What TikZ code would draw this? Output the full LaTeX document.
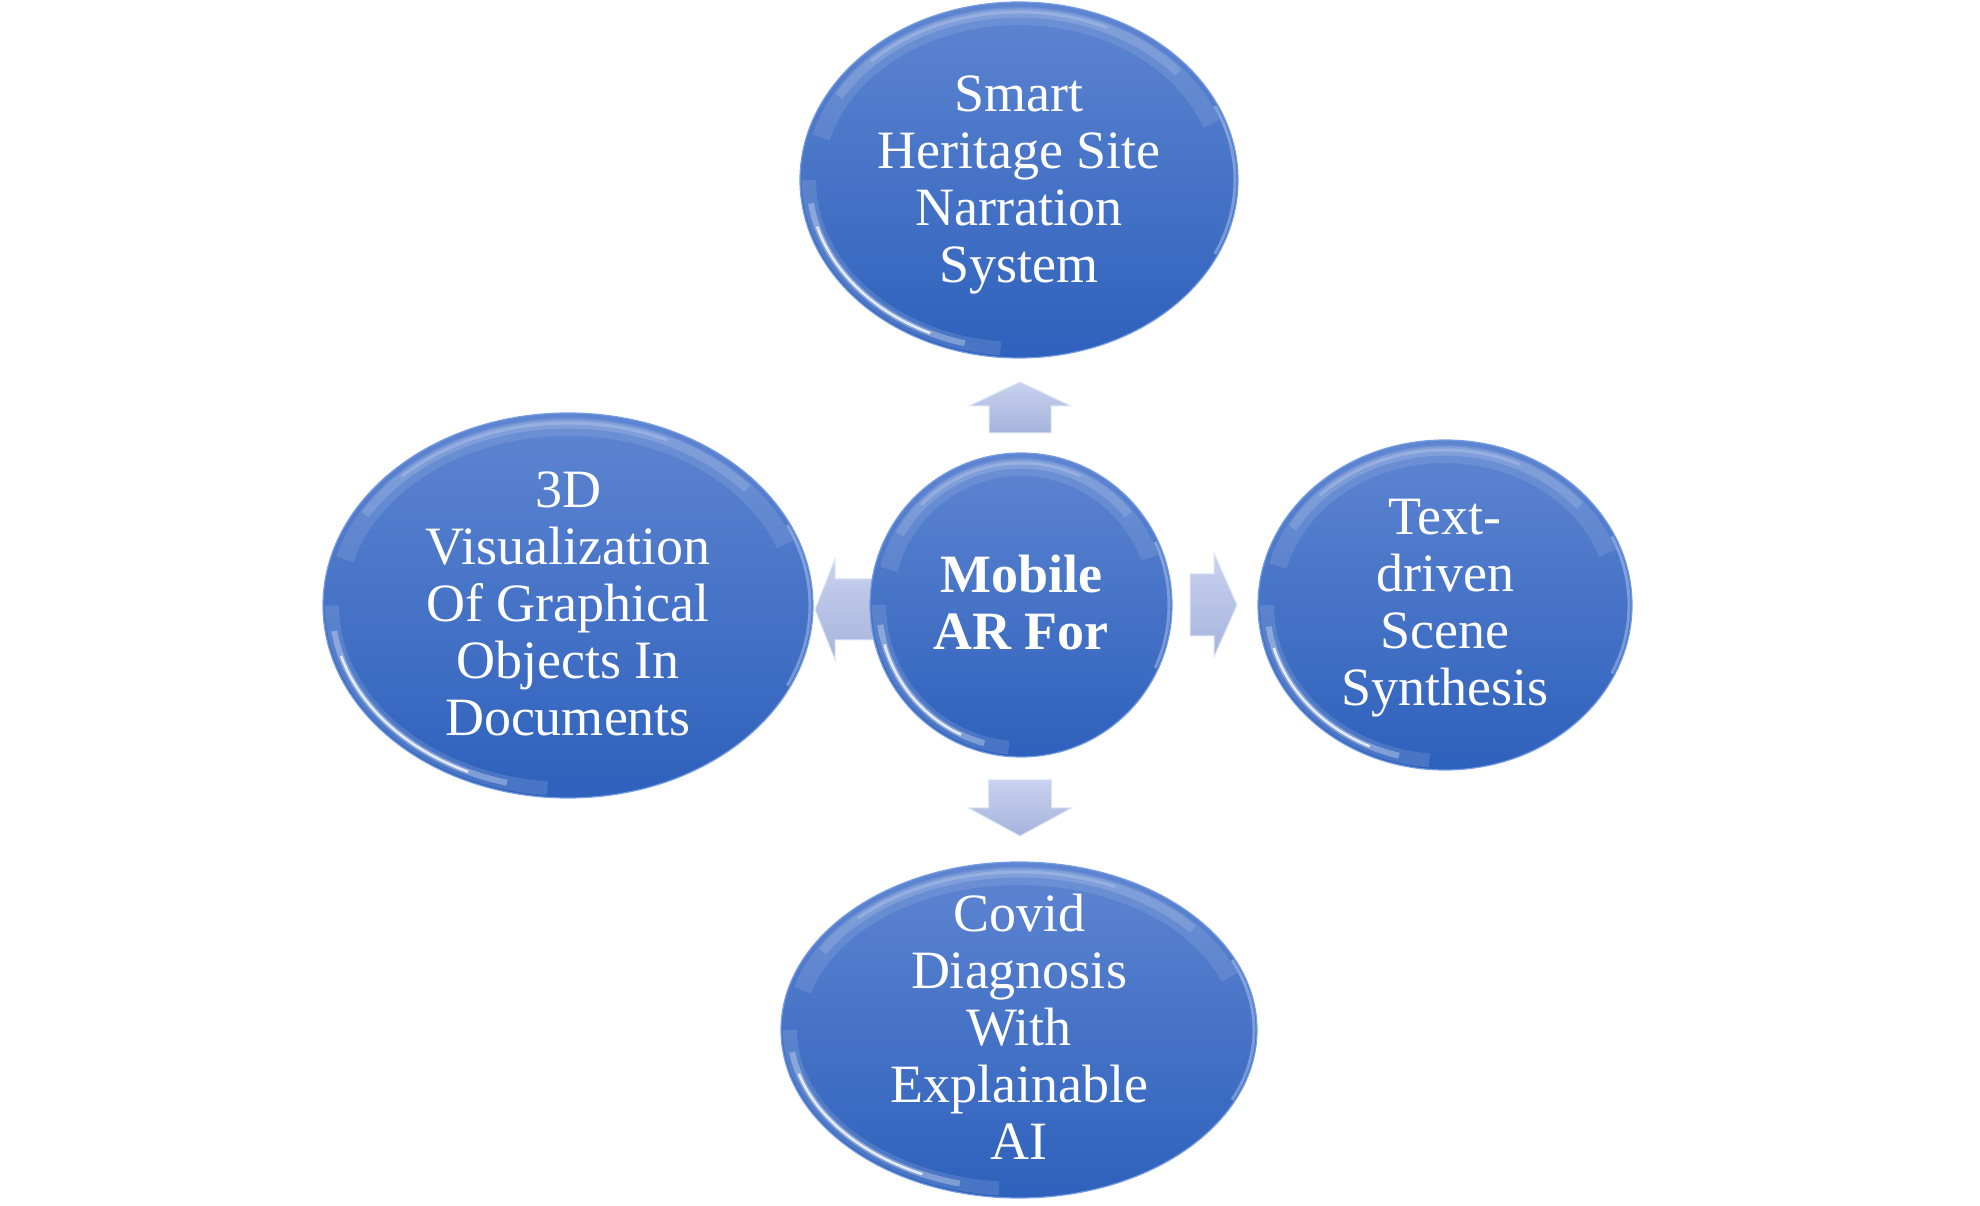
\documentclass[tikz,border=0pt]{standalone}
\usepackage{fontspec}
\setmainfont{Liberation Serif}
\usetikzlibrary{shapes.geometric}
\definecolor{btop}{RGB}{94,133,209}
\definecolor{bbot}{RGB}{46,97,188}
\definecolor{brim}{RGB}{118,156,226}
\definecolor{atop}{RGB}{200,210,239}
\definecolor{abot}{RGB}{166,179,219}
\definecolor{arim}{RGB}{222,229,248}
\tikzset{
  hl/.style n args={5}{white, opacity=#1, line width=#2},
  bubble/.style 2 args={ellipse, inner sep=0pt,
    minimum width={2*#1pt}, minimum height={2*#2pt},
    top color=btop, bottom color=bbot, draw=brim, line width=1.2pt,
    path picture={
      % soft top band
      \draw[white, opacity=0.10, line width=18pt]
        (path picture bounding box.center) ++(165:{#1pt-14pt} and {#2pt-14pt})
        arc[start angle=165, end angle=20, x radius={#1pt-14pt}, y radius={#2pt-14pt}];
      \draw[white, opacity=0.14, line width=9pt]
        (path picture bounding box.center) ++(150:{#1pt-11pt} and {#2pt-11pt})
        arc[start angle=150, end angle=40, x radius={#1pt-11pt}, y radius={#2pt-11pt}];
      \draw[white, opacity=0.18, line width=3pt]
        (path picture bounding box.center) ++(135:{#1pt-10pt} and {#2pt-10pt})
        arc[start angle=135, end angle=65, x radius={#1pt-10pt}, y radius={#2pt-10pt}];
      % bright lower-left streak
      \draw[white, opacity=0.12, line width=14pt]
        (path picture bounding box.center) ++(180:{#1pt-9pt} and {#2pt-9pt})
        arc[start angle=180, end angle=265, x radius={#1pt-9pt}, y radius={#2pt-9pt}];
      \draw[white, opacity=0.3, line width=6pt]
        (path picture bounding box.center) ++(188:{#1pt-9pt} and {#2pt-9pt})
        arc[start angle=188, end angle=255, x radius={#1pt-9pt}, y radius={#2pt-9pt}];
      \draw[white, opacity=0.8, line width=2.5pt]
        (path picture bounding box.center) ++(196:{#1pt-9pt} and {#2pt-9pt})
        arc[start angle=196, end angle=245, x radius={#1pt-9pt}, y radius={#2pt-9pt}];
      % right rim light
      \draw[white, opacity=0.3, line width=3pt]
        (path picture bounding box.center) ++(-25:{#1pt-3pt} and {#2pt-3pt})
        arc[start angle=-25, end angle=25, x radius={#1pt-3pt}, y radius={#2pt-3pt}];
    }},
  bubbletext/.style={text=white, align=center, inner sep=0pt,
    font=\fontsize{54}{57}\selectfont},
  arrowfill/.style={top color=atop, bottom color=abot, draw=arim, line width=1pt},
}
% block arrow: cx, cy, angle, length, head length, head width, shaft width
\newcommand\myblockarrow[7]{%
  \begin{scope}[shift={(#1,#2)}, rotate=#3]
    \path[arrowfill] ({-#4/2},{-#7/2}) -- ({#4/2-#5},{-#7/2}) -- ({#4/2-#5},{-#6/2})
      -- ({#4/2},0) -- ({#4/2-#5},{#6/2}) -- ({#4/2-#5},{#7/2}) -- ({-#4/2},{#7/2}) -- cycle;
  \end{scope}}
\begin{document}
\begin{tikzpicture}[x=1pt, y=1pt]
  \useasboundingbox (0,0) rectangle (1980,1205);
  % arrows
  \myblockarrow{1020}{797.5}{90}{51}{24}{102}{62}
  \myblockarrow{1213.5}{600}{0}{47}{23}{104}{62}
  \myblockarrow{847.5}{595.5}{180}{65}{20}{101}{61}
  \myblockarrow{1020}{397}{270}{56}{28}{103}{63}
  % bubbles
  \node[bubble={219}{178}] (top) at (1019,1025) {};
  \node[bubble={245}{192.5}] (left) at (568,599.5) {};
  \node[bubble={187}{165}] (right) at (1445,600) {};
  \node[bubble={238}{168}] (bottom) at (1019,175) {};
  \node[bubble={151}{152}] (center) at (1021,600) {};
  % texts
  \node[bubbletext] (tTop) at ([yshift=-5pt]top.center) {Smart\\Heritage Site\\Narration\\System};
  \node[bubbletext] (tLeft) at ([yshift=2pt]left.center) {3D\\Visualization\\Of Graphical\\Objects In\\Documents};
  \node[bubbletext] (tRight) at ([yshift=-3pt]right.center) {Text-\\driven\\Scene\\Synthesis};
  \node[bubbletext] (tBottom) at ([yshift=3pt]bottom.center) {Covid\\Diagnosis\\With\\Explainable\\AI};
  \node[bubbletext, font=\fontsize{54}{57}\selectfont\bfseries] (tCenter) at ([yshift=2pt]center.center) {Mobile\\AR For};
\end{tikzpicture}
\end{document}
